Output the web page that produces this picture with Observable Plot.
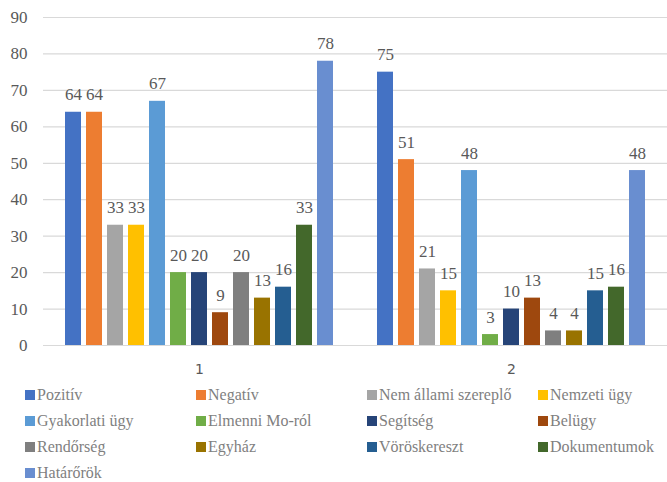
<!DOCTYPE html>
<html>
<head>
<meta charset="utf-8">
<script src="https://cdn.jsdelivr.net/npm/d3@7"></script>
<script src="https://cdn.jsdelivr.net/npm/@observablehq/plot@0.6"></script>
<style>
  html, body { margin: 0; padding: 0; background: #fff; overflow: hidden; }
  #chart svg { display: block; }
  .legend {
    display: grid;
    grid-template-columns: repeat(4, 171px);
    grid-auto-rows: 26px;
    padding-left: 25px;
    margin-top: 2px;
    font-family: "Liberation Serif", "DejaVu Serif", "Noto Serif", serif;
    font-size: 16px;
    line-height: 18px;
    color: #7f7f7f;
  }
  .legend .item { display: flex; align-items: center; white-space: nowrap; }
  .legend .sw { width: 10px; height: 10px; margin-right: 2px; flex: none; }
</style>
</head>
<body>
<div id="chart"></div>
<div class="legend" id="legend"></div>
<script>
const groups = ["1", "2"];
const series = ["Pozitív", "Negatív", "Nem állami szereplő", "Nemzeti ügy", "Gyakorlati ügy",
  "Elmenni Mo-ról", "Segítség", "Belügy", "Rendőrség", "Egyház", "Vöröskereszt",
  "Dokumentumok", "Határőrök"];
const values1 = [64, 64, 33, 33, 67, 20, 20, 9, 20, 13, 16, 33, 78];
const values2 = [75, 51, 21, 15, 48, 3, 10, 13, 4, 4, 15, 16, 48];
const yTicks = [0, 10, 20, 30, 40, 50, 60, 70, 80, 90];

const colors = ["#4472C4", "#ED7D31", "#A5A5A5", "#FFC000", "#5B9BD5", "#70AD47",
  "#264478", "#9E480E", "#7F7F7F", "#997300", "#255E91", "#43682B", "#698ED0"];

const data = [];
[values1, values2].forEach((vals, gi) => {
  vals.forEach((v, i) => data.push({group: groups[gi], series: series[i], value: v}));
});

const serif = "Liberation Serif, DejaVu Serif, Noto Serif, serif";

const chart = Plot.plot({
  width: 667,
  height: 380,
  marginLeft: 42,
  marginRight: 0,
  marginTop: 17,
  marginBottom: 35,
  style: {fontFamily: serif, fontSize: "17px", color: "#595959", background: "#fff"},
  fx: {domain: groups, paddingInner: 0, paddingOuter: 0},
  x: {domain: series, paddingInner: 0.22, paddingOuter: 0.8, axis: null},
  y: {domain: [0, 90]},
  color: {domain: series, range: colors},
  marks: [
    Plot.gridY(yTicks, {stroke: "#d9d9d9", strokeOpacity: 1, strokeWidth: 1.2}),
    Plot.axisY(yTicks, {tickSize: 0, tickPadding: 16, fontSize: 17, fontFamily: serif, fill: "#595959", label: null}),
    Plot.axisFx({anchor: "bottom", tickSize: 0, tickPadding: 19, fontSize: 14, fontFamily: "DejaVu Sans, sans-serif", fill: "#595959", label: null}),
    Plot.barY(data, {fx: "group", x: "series", y: "value", fill: "series"}),
    Plot.text(data, {fx: "group", x: "series", y: "value", text: d => String(d.value),
      dy: -12, lineAnchor: "bottom", fontSize: 17, fontFamily: serif, fill: "#595959"})
  ]
});
document.getElementById("chart").appendChild(chart);

const legend = document.getElementById("legend");
series.forEach((s, i) => {
  const item = document.createElement("div");
  item.className = "item";
  const sw = document.createElement("span");
  sw.className = "sw";
  sw.style.background = colors[i];
  const label = document.createElement("span");
  label.textContent = s;
  item.appendChild(sw);
  item.appendChild(label);
  legend.appendChild(item);
});
</script>
</body>
</html>
